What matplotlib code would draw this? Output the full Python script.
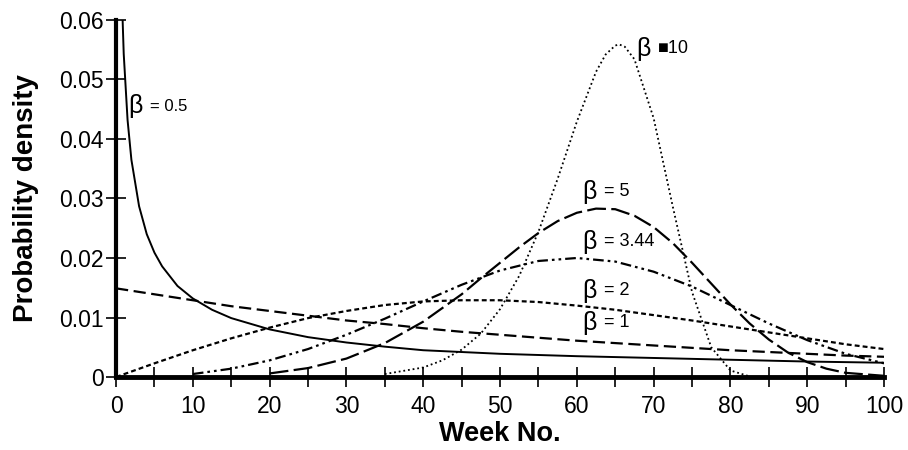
import matplotlib
matplotlib.use("Agg")
import matplotlib.pyplot as plt

plt.rcParams['font.family'] = ['Liberation Sans', 'DejaVu Sans']

# beta = 0.5 (solid)
x_b05 = [0.35, 0.7, 1, 1.5, 2, 3, 4, 5, 6, 8, 10, 12.5, 15, 20, 25, 30, 35, 40, 50, 60, 70, 80, 90, 100]
y_b05 = [0.0966, 0.0662, 0.0543, 0.0432, 0.0365, 0.0287, 0.0240, 0.0209, 0.0186, 0.0153, 0.0132,
         0.0113, 0.0099, 0.0080, 0.0067, 0.0058, 0.0051, 0.0045, 0.0039, 0.0035, 0.0032, 0.0029,
         0.0026, 0.0024]

# beta = 1 (dashed)
x_b1 = [0, 5, 10, 15, 20, 25, 30, 35, 40, 45, 50, 55, 60, 65, 70, 75, 80, 85, 90, 95, 100]
y_b1 = [0.0149, 0.0139, 0.0129, 0.0119, 0.0111, 0.0103, 0.0095, 0.0089, 0.0082, 0.0076, 0.0071,
        0.0066, 0.0061, 0.0057, 0.0053, 0.0049, 0.0045, 0.0042, 0.0039, 0.0036, 0.0034]

# beta = 2 (short dashes)
x_b2 = [0, 5, 10, 15, 20, 25, 30, 35, 40, 45, 50, 55, 60, 65, 70, 75, 80, 85, 90, 95, 100]
y_b2 = [0.0, 0.0023, 0.0045, 0.0065, 0.0083, 0.0099, 0.0111, 0.0121, 0.0127, 0.0129, 0.0129,
        0.0126, 0.0120, 0.0113, 0.0104, 0.0095, 0.0085, 0.0075, 0.0065, 0.0055, 0.0047]

# beta = 3.44 (dash-dot-dot)
x_b344 = [10, 15, 20, 25, 30, 35, 40, 45, 50, 55, 60, 65, 70, 75, 80, 85, 90, 95, 100]
y_b344 = [0.0005, 0.0014, 0.0028, 0.0047, 0.0071, 0.0098, 0.0127, 0.0155, 0.0179, 0.0195,
          0.0200, 0.0194, 0.0177, 0.0152, 0.0121, 0.0090, 0.0062, 0.0039, 0.0023]

# beta = 5 (long dashes)
x_b5 = [20, 25, 30, 35, 40, 45, 47.5, 50, 52.5, 55, 57.5, 60, 62.5, 65, 67.5, 70, 72.5, 75,
        77.5, 80, 82.5, 85, 87.5, 90, 92.5, 95, 100]
y_b5 = [0.0006, 0.0015, 0.0031, 0.0057, 0.0093, 0.0139, 0.0166, 0.0192, 0.0218, 0.0242,
        0.0262, 0.0276, 0.0283, 0.0282, 0.0271, 0.0252, 0.0225, 0.0192, 0.0157, 0.0122,
        0.0090, 0.0063, 0.0041, 0.0025, 0.0014, 0.0007, 0.0002]

# beta = 10 (dotted)
x_b10 = [35, 40, 42.5, 45, 47.5, 50, 52.5, 55, 57.5, 60, 62.5, 63.75, 65, 65.5, 66.25, 67.5,
         70, 72.5, 75, 77.5, 80, 82.5]
y_b10 = [0.0005, 0.0016, 0.0028, 0.0046, 0.0073, 0.0114, 0.0170, 0.0244, 0.0333, 0.0429,
         0.0513, 0.0542, 0.0557, 0.0559, 0.0555, 0.0534, 0.0435, 0.0286, 0.0143, 0.0050,
         0.0011, 0.0001]

x_ticks = [0, 10, 20, 30, 40, 50, 60, 70, 80, 90, 100]
y_ticks = [0, 0.01, 0.02, 0.03, 0.04, 0.05, 0.06]
y_tick_labels = ['0', '0.01', '0.02', '0.03', '0.04', '0.05', '0.06']

fig = plt.figure(figsize=(9.08, 4.5), dpi=100)
ax = fig.add_axes([0.1278, 0.1622, 0.8458, 0.7934])

ax.plot(x_b05, y_b05, color='black', lw=1.4, solid_capstyle='butt')
ax.plot(x_b1, y_b1, color='black', lw=1.6, dashes=(5.5, 2.5))
ax.plot(x_b2, y_b2, color='black', lw=1.6, dashes=(2.2, 1.4))
ax.plot(x_b344, y_b344, color='black', lw=1.6, dashes=(4.8, 1.8, 1.2, 1.8, 1.2, 1.8))
ax.plot(x_b5, y_b5, color='black', lw=1.6, dashes=(8.5, 2.4))
ax.plot(x_b10, y_b10, color='black', lw=1.3, dashes=(1.0, 1.6))

ax.set_xlim(0, 100)
ax.set_ylim(0, 0.06)
ax.spines['top'].set_visible(False)
ax.spines['right'].set_visible(False)
ax.spines['left'].set_linewidth(3)
ax.spines['bottom'].set_linewidth(3.5)
ax.spines['left'].set_zorder(5)
ax.spines['bottom'].set_zorder(5)

ax.set_xticks(x_ticks)
ax.set_xticks(list(range(5, 100, 10)), minor=True)
ax.set_yticks(y_ticks)
ax.set_yticklabels(y_tick_labels)
ax.tick_params(axis='both', which='both', direction='inout', length=14, width=1.2,
               labelsize=16.5)
ax.tick_params(axis='x', pad=6)
ax.tick_params(axis='y', pad=2)

ax.set_xlabel('Week No.', fontsize=19.5, fontweight='bold', labelpad=2)
ax.set_ylabel('Probability density', fontsize=20, fontweight='bold', labelpad=14)

# curve labels
def beta_label(x, y, rest, gap=2.8, size=13):
    ax.text(x, y, 'β', fontsize=18, ha='left', va='center')
    ax.text(x + gap, y, rest, fontsize=size, ha='left', va='center')

beta_label(1.6, 0.0455, '= 0.5', size=12)
beta_label(67.8, 0.0552, '■10', gap=2.8)
beta_label(60.7, 0.0311, '= 5')
beta_label(60.7, 0.0227, '= 3.44')
beta_label(60.7, 0.0145, '= 2')
beta_label(60.7, 0.0091, '= 1')

fig.savefig('out.png', dpi=100)
